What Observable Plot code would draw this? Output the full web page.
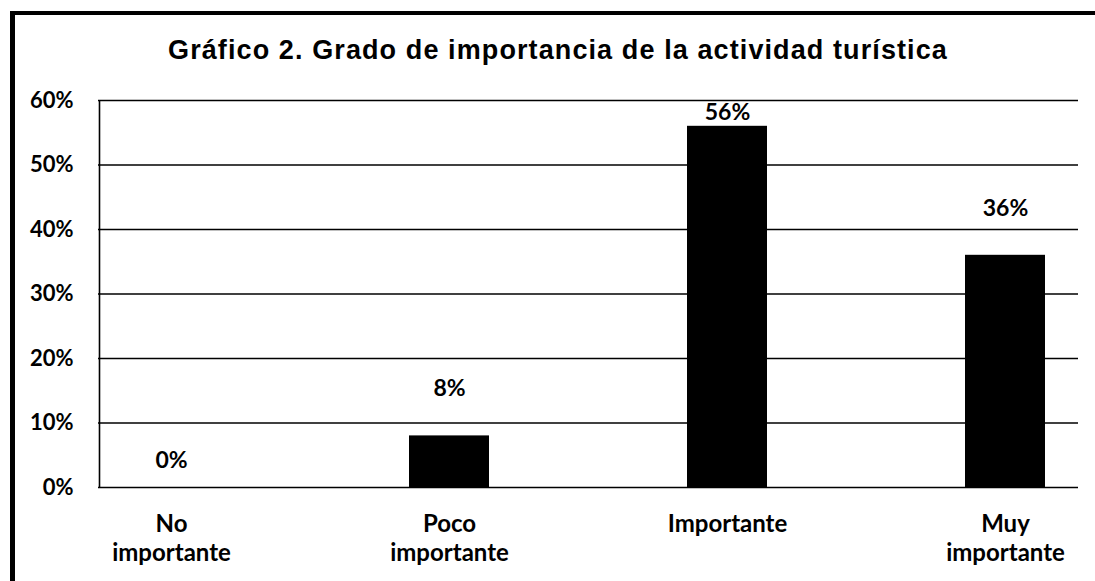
<!DOCTYPE html>
<html>
<head>
<meta charset="utf-8">
<script src="https://cdn.jsdelivr.net/npm/d3@7"></script>
<script src="https://cdn.jsdelivr.net/npm/@observablehq/plot@0.6"></script>
<style>
  html, body { margin: 0; padding: 0; background: #fff; overflow: hidden; }
  #wrap { position: relative; width: 1095px; height: 581px; overflow: hidden; background: #fff; }
  #frame { position: absolute; left: 10px; top: 11px; width: 1085px; height: 570px;
           border-left: 5px solid #000; border-top: 4px solid #000; box-sizing: border-box; pointer-events: none; }
  #title { position: absolute; left: 0; width: 1116px; top: 35px; text-align: center;
           font-family: "Liberation Sans", Arial, sans-serif; font-weight: bold; font-size: 27px;
           letter-spacing: 1.1px; color: #000; line-height: 30px; white-space: nowrap; }
  #chart { position: absolute; left: 0; top: 0; }
</style>
</head>
<body>
<div id="wrap">
  <div id="chart"></div>
  <div id="title">Gráfico 2. Grado de importancia de la actividad turística</div>
  <div id="frame"></div>
</div>
<script>
const categories = ["No\nimportante", "Poco\nimportante", "Importante", "Muy\nimportante"];
const values = [0.00, 0.08, 0.56, 0.36];
const yTicks = [0, 0.1, 0.2, 0.3, 0.4, 0.5, 0.6];

const data = categories.map((c, i) => ({cat: c, val: values[i]}));
const pct = d3.format(".0%");
const font = "Lato, 'Open Sans', sans-serif";

const chart = Plot.plot({
  width: 1095,
  height: 581,
  marginLeft: 98,
  marginRight: 17,
  marginTop: 100,
  marginBottom: 94,
  style: {fontFamily: font, fontSize: "22px", fontWeight: "bold", color: "#000", background: "transparent"},
  x: {domain: categories, paddingInner: 0.713, paddingOuter: 0.115, label: null},
  y: {domain: [0, 0.6], ticks: yTicks, label: null},
  marks: [
    Plot.gridY(yTicks, {stroke: "#000", strokeOpacity: 1, strokeWidth: 1.6}),
    Plot.ruleX([categories[0]], {x: d => d, dx: -72, y1: () => 0, y2: () => 0.6, stroke: "#000", strokeWidth: 1.6}),
    Plot.barY(data, {x: "cat", y: "val", fill: "#000"}),
    Plot.axisY({ticks: yTicks, tickFormat: pct, tickSize: 0, tickPadding: 25, fontSize: 22, label: null}),
    Plot.axisX({tickSize: 0, tickPadding: 25, fontSize: 24, lineHeight: 1.17, label: null, style: {letterSpacing: "0.5px"}}),
    Plot.text(data.filter(d => d.val === 0), {x: "cat", y: "val", text: d => pct(d.val), dy: -27, fontSize: 23, fill: "#000"}),
    Plot.text(data.filter(d => d.val > 0 && d.val < 0.5), {x: "cat", y: "val", text: d => pct(d.val), dy: -47, fontSize: 23, fill: "#000"}),
    Plot.text(data.filter(d => d.val >= 0.5), {x: "cat", y: "val", text: d => pct(d.val), dy: -14, fontSize: 23, fill: "#000"})
  ]
});
document.getElementById("chart").appendChild(chart);
</script>
</body>
</html>
